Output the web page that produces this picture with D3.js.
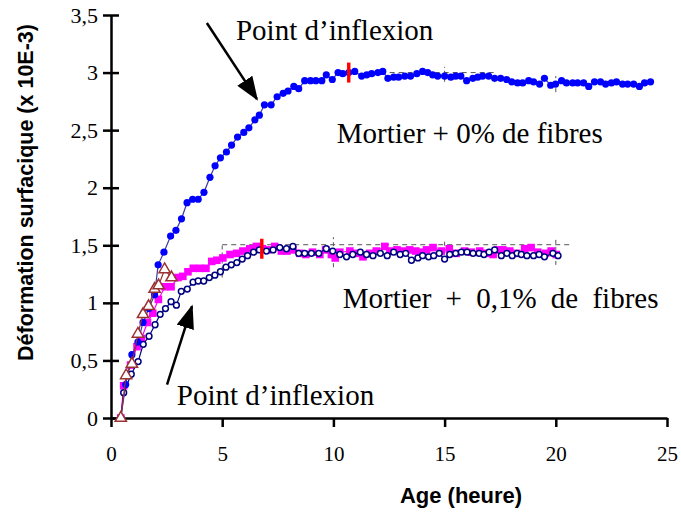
<!DOCTYPE html>
<html>
<head>
<meta charset="utf-8">
<script src="https://cdn.jsdelivr.net/npm/d3@7/dist/d3.min.js"></script>
<style>
  body { margin: 0; background: #fff; }
  .tick text { fill: #000; }
</style>
</head>
<body>
<div id="chart"></div>
<script>
// tick values and labels
const xTicks = [0, 5, 10, 15, 20, 25];
const yTicks = [0, 0.5, 1, 1.5, 2, 2.5, 3, 3.5];
const yTickLabels = ["0", "0,5", "1", "1,5", "2", "2,5", "3", "3,5"];

// Mortier + 0% de fibres  [heure, deformation]
const fib0 = [
  [0.44, 0], [0.66, 0.29], [0.94, 0.55], [1.21, 0.66], [1.44, 0.83], [1.70, 0.95],
  [1.96, 1.07], [2.12, 1.33], [2.38, 1.44], [2.68, 1.58], [2.92, 1.63], [3.17, 1.73],
  [3.42, 1.87], [3.67, 1.9], [3.92, 1.9], [4.18, 1.96], [4.45, 2.09], [4.68, 2.19],
  [4.92, 2.26], [5.19, 2.31], [5.42, 2.37], [5.69, 2.44], [5.97, 2.48], [6.20, 2.52],
  [6.47, 2.59], [6.67, 2.63], [6.90, 2.72], [7.20, 2.72], [7.47, 2.79], [7.74, 2.82],
  [7.96, 2.84], [8.22, 2.88], [8.44, 2.86], [8.71, 2.93], [8.97, 2.93], [9.21, 2.93],
  [9.48, 2.93], [9.68, 2.98], [9.95, 2.94], [10.21, 3.0], [10.42, 2.99], [10.69, 3.0],
  [10.96, 3.01], [11.27, 2.97], [11.50, 2.98], [11.72, 2.99], [12.00, 3.0], [12.22, 3.01],
  [12.45, 2.95], [12.71, 2.96], [12.93, 2.96], [13.21, 2.97], [13.47, 2.97], [13.75, 2.99],
  [14.01, 3.01], [14.24, 3.0], [14.46, 2.98], [14.69, 2.97], [15.00, 2.97], [15.28, 2.96],
  [15.50, 2.97], [15.73, 2.97], [15.99, 2.93], [16.27, 2.95], [16.49, 2.96], [16.71, 2.97],
  [16.98, 2.97], [17.25, 2.95], [17.52, 2.95], [17.79, 2.94], [18.02, 2.92], [18.28, 2.91],
  [18.51, 2.91], [18.78, 2.93], [19.00, 2.92], [19.27, 2.9], [19.49, 2.95], [19.77, 2.89],
  [19.99, 2.9], [20.26, 2.93], [20.48, 2.91], [20.76, 2.91], [20.98, 2.91], [21.25, 2.91],
  [21.48, 2.88], [21.74, 2.92], [22.01, 2.92], [22.24, 2.9], [22.50, 2.91], [22.73, 2.92],
  [23.00, 2.9], [23.23, 2.9], [23.50, 2.9], [23.76, 2.88], [23.99, 2.91], [24.26, 2.92]
];

// Mortier + 0,1% de fibres (carres magenta)
const fib01a = [
  [0.44, 0], [0.57, 0.28], [0.88, 0.46], [1.17, 0.62], [1.37, 0.69], [1.64, 0.83],
  [1.88, 0.91], [2.13, 1.03], [2.43, 1.14], [2.70, 1.14], [3.01, 1.22], [3.23, 1.23],
  [3.46, 1.27], [3.70, 1.3], [4.00, 1.3], [4.27, 1.3], [4.53, 1.36], [4.76, 1.37],
  [5.03, 1.39], [5.35, 1.42], [5.65, 1.43], [5.93, 1.45], [6.24, 1.47], [6.54, 1.49],
  [6.81, 1.47], [7.03, 1.46], [7.36, 1.49], [7.66, 1.45], [7.91, 1.45], [8.18, 1.46],
  [8.49, 1.43], [8.76, 1.42], [9.06, 1.44], [9.39, 1.42], [9.65, 1.46], [9.91, 1.42],
  [10.08, 1.39], [10.29, 1.44], [10.74, 1.45], [11.03, 1.43], [11.33, 1.4], [11.63, 1.43],
  [11.93, 1.45], [12.31, 1.49], [12.54, 1.45], [12.86, 1.46], [13.13, 1.45], [13.43, 1.46],
  [13.70, 1.45], [13.96, 1.44], [14.19, 1.46], [14.48, 1.48], [14.85, 1.45], [15.21, 1.47],
  [15.52, 1.43], [15.90, 1.45], [16.20, 1.44], [16.58, 1.45], [16.88, 1.43], [17.18, 1.42],
  [17.40, 1.46], [17.62, 1.46], [17.93, 1.45], [18.22, 1.43], [18.60, 1.47], [18.89, 1.48],
  [19.19, 1.44], [19.54, 1.43], [19.79, 1.45], [20.02, 1.42]
];

// Mortier + 0,1% de fibres (cercles bleu marine)
const fib01b = [
  [0.44, 0], [0.57, 0.22], [0.91, 0.38], [1.22, 0.49], [1.45, 0.64], [1.71, 0.71],
  [1.98, 0.81], [2.21, 0.9], [2.45, 0.95], [2.70, 1.01], [2.94, 0.98], [3.16, 1.1],
  [3.43, 1.12], [3.69, 1.18], [3.92, 1.19], [4.17, 1.19], [4.42, 1.22], [4.67, 1.24],
  [4.92, 1.27], [5.17, 1.31], [5.41, 1.33], [5.66, 1.35], [5.90, 1.38], [6.14, 1.41],
  [6.41, 1.44], [6.67, 1.46], [6.99, 1.45], [7.29, 1.46], [7.59, 1.48], [7.89, 1.47],
  [8.18, 1.49], [8.44, 1.43], [8.71, 1.43], [9.01, 1.43], [9.34, 1.43], [9.68, 1.47],
  [9.97, 1.45], [10.29, 1.42], [10.59, 1.4], [10.87, 1.42], [11.21, 1.44], [11.49, 1.42],
  [11.78, 1.41], [12.11, 1.43], [12.42, 1.41], [12.71, 1.44], [13.00, 1.42], [13.25, 1.43],
  [13.51, 1.37], [13.80, 1.39], [14.01, 1.41], [14.28, 1.4], [14.51, 1.41], [14.76, 1.43],
  [15.00, 1.38], [15.23, 1.42], [15.50, 1.43], [15.75, 1.44], [16.01, 1.44], [16.28, 1.43],
  [16.55, 1.43], [16.77, 1.42], [17.00, 1.44], [17.25, 1.46], [17.55, 1.41], [17.80, 1.43],
  [18.04, 1.41], [18.26, 1.43], [18.45, 1.42], [18.70, 1.41], [19.00, 1.41], [19.25, 1.42],
  [19.49, 1.4], [19.87, 1.43], [20.10, 1.41]
];

// triangles rouge fonce (debut)
const fibTri = [
  [0.44, 0], [0.68, 0.37], [0.94, 0.47], [1.21, 0.73], [1.44, 0.9], [1.69, 0.97],
  [1.96, 1.12], [2.14, 1.15], [2.41, 1.29], [2.72, 1.22]
];

// points d'inflexion (traits rouges)
const inflexions = [[10.69, 3.0], [6.78, 1.47]];

// restes de quadrillage pointille
const dashH = [[12.53, 17.34, 3.0], [5, 20.6, 1.505]];
const dashV = [
  [15, 2.92, 3.05], [20, 2.83, 2.97],
  [5, 1.22, 1.505], [10, 1.31, 1.57], [15, 1.435, 1.55], [20, 1.33, 1.55]
];

// annotations
const labels = [
  { text: "Point d’inflexion", x: 5.62, y: 3.28, ws: 0 },
  { text: "Mortier + 0% de fibres", x: 10.15, y: 2.39, ws: 0 },
  { text: "Mortier + 0,1% de fibres", x: 10.42, y: 0.957, ws: 7 },
  { text: "Point d’inflexion", x: 2.96, y: 0.113, ws: 0 }
];
const arrows = [
  [[4.31, 3.43], [6.56, 2.77]],
  [[2.52, 0.29], [3.64, 0.97]]
];

const W = 681, H = 513;
const x = d3.scaleLinear().domain([0, 25]).range([111, 667]);
const y = d3.scaleLinear().domain([0, 3.5]).range([418, 15]);

const svg = d3.select("#chart").append("svg")
  .attr("width", W).attr("height", H);

svg.append("defs").append("marker")
  .attr("id", "head")
  .attr("markerUnits", "userSpaceOnUse")
  .attr("markerWidth", 24).attr("markerHeight", 18)
  .attr("viewBox", "0 0 24 18")
  .attr("refX", 22).attr("refY", 9)
  .attr("orient", "auto")
  .append("path")
  .attr("d", "M0,0 L24,9 L0,18 Z")
  .attr("fill", "#000");

// dashed remnants
svg.selectAll(".dh").data(dashH).enter().append("line")
  .attr("x1", d => x(d[0])).attr("x2", d => x(d[1]))
  .attr("y1", d => y(d[2])).attr("y2", d => y(d[2]))
  .attr("stroke", "#555").attr("stroke-width", 1).attr("stroke-dasharray", "5,4");
svg.selectAll(".dv").data(dashV).enter().append("line")
  .attr("x1", d => x(d[0])).attr("x2", d => x(d[0]))
  .attr("y1", d => y(d[1])).attr("y2", d => y(d[2]))
  .attr("stroke", "#555").attr("stroke-width", 1).attr("stroke-dasharray", "4,3");

// axes
const yAxis = svg.append("g")
  .attr("transform", `translate(${x(0)},0)`)
  .call(d3.axisLeft(y).tickValues(yTicks).tickFormat((d, i) => yTickLabels[i])
    .tickSizeInner(8).tickSizeOuter(0).tickPadding(5));
yAxis.selectAll(".tick line").attr("x1", 8);
yAxis.selectAll(".tick text")
  .style("font-family", "'Liberation Serif', 'Times New Roman', serif")
  .style("font-size", "22px");

const xAxis = svg.append("g")
  .attr("transform", `translate(0,${y(0)})`)
  .call(d3.axisBottom(x).tickValues(xTicks).tickFormat(d3.format("d"))
    .tickSizeInner(9).tickSizeOuter(0).tickPadding(19));
xAxis.selectAll(".tick text")
  .style("font-family", "'Liberation Serif', 'Times New Roman', serif")
  .style("font-size", "21px");

svg.selectAll(".domain, .tick line").attr("stroke", "#000").attr("stroke-width", 2.5);

// axis titles
svg.append("text")
  .attr("transform", `translate(33,${(y(0) + y(3.5)) / 2 - 24}) rotate(-90)`)
  .attr("text-anchor", "middle")
  .style("font-family", "'Liberation Sans', Arial, sans-serif")
  .style("font-weight", "bold").style("font-size", "21.5px")
  .text("Déformation surfacique (x 10E-3)");
svg.append("text")
  .attr("x", 461).attr("y", 503)
  .attr("text-anchor", "middle")
  .style("font-family", "'Liberation Sans', Arial, sans-serif")
  .style("font-weight", "bold").style("font-size", "22px")
  .text("Age (heure)");

const line = d3.line().x(d => x(d[0])).y(d => y(d[1]));

// magenta squares
svg.append("path").datum(fib01a)
  .attr("fill", "none").attr("stroke", "#ff00ff").attr("stroke-width", 1.2)
  .attr("d", line);
svg.selectAll(".sq").data(fib01a).enter().append("rect")
  .attr("x", d => x(d[0]) - 3.8).attr("y", d => y(d[1]) - 3.8)
  .attr("width", 7.6).attr("height", 7.6)
  .attr("fill", "#ff00ff");

// navy open circles
svg.append("path").datum(fib01b)
  .attr("fill", "none").attr("stroke", "#000080").attr("stroke-width", 1.2)
  .attr("d", line);
svg.selectAll(".oc").data(fib01b).enter().append("circle")
  .attr("cx", d => x(d[0])).attr("cy", d => y(d[1]))
  .attr("r", 2.9)
  .attr("fill", "#fff").attr("stroke", "#000080").attr("stroke-width", 1.5);

// blue filled circles
svg.append("path").datum(fib0)
  .attr("fill", "none").attr("stroke", "#3a3aa0").attr("stroke-width", 1.2)
  .attr("d", line);
svg.selectAll(".bc").data(fib0).enter().append("circle")
  .attr("cx", d => x(d[0])).attr("cy", d => y(d[1]))
  .attr("r", 3.6)
  .attr("fill", "#0000ff");

// dark red triangles
svg.append("path").datum(fibTri)
  .attr("fill", "none").attr("stroke", "#993333").attr("stroke-width", 1.2)
  .attr("d", line);
svg.selectAll(".tr").data(fibTri).enter().append("path")
  .attr("transform", d => `translate(${x(d[0])},${y(d[1])})`)
  .attr("d", d3.symbol().type(d3.symbolTriangle).size(55))
  .attr("fill", "#fff").attr("stroke", "#993333").attr("stroke-width", 1.5);

// inflexion markers
svg.selectAll(".inf").data(inflexions).enter().append("rect")
  .attr("x", d => x(d[0]) - 1.7).attr("y", d => y(d[1]) - 10)
  .attr("width", 3.4).attr("height", 20)
  .attr("fill", "#ff0000");

// arrows
svg.selectAll(".arr").data(arrows).enter().append("line")
  .attr("x1", d => x(d[0][0])).attr("y1", d => y(d[0][1]))
  .attr("x2", d => x(d[1][0])).attr("y2", d => y(d[1][1]))
  .attr("stroke", "#000").attr("stroke-width", 2.5)
  .attr("marker-end", "url(#head)");

// annotation texts
svg.selectAll(".lab").data(labels).enter().append("text")
  .attr("x", d => x(d.x)).attr("y", d => y(d.y))
  .style("font-family", "'Liberation Serif', 'Times New Roman', serif")
  .style("font-size", "29px")
  .style("word-spacing", d => d.ws + "px")
  .text(d => d.text);
</script>
</body>
</html>
